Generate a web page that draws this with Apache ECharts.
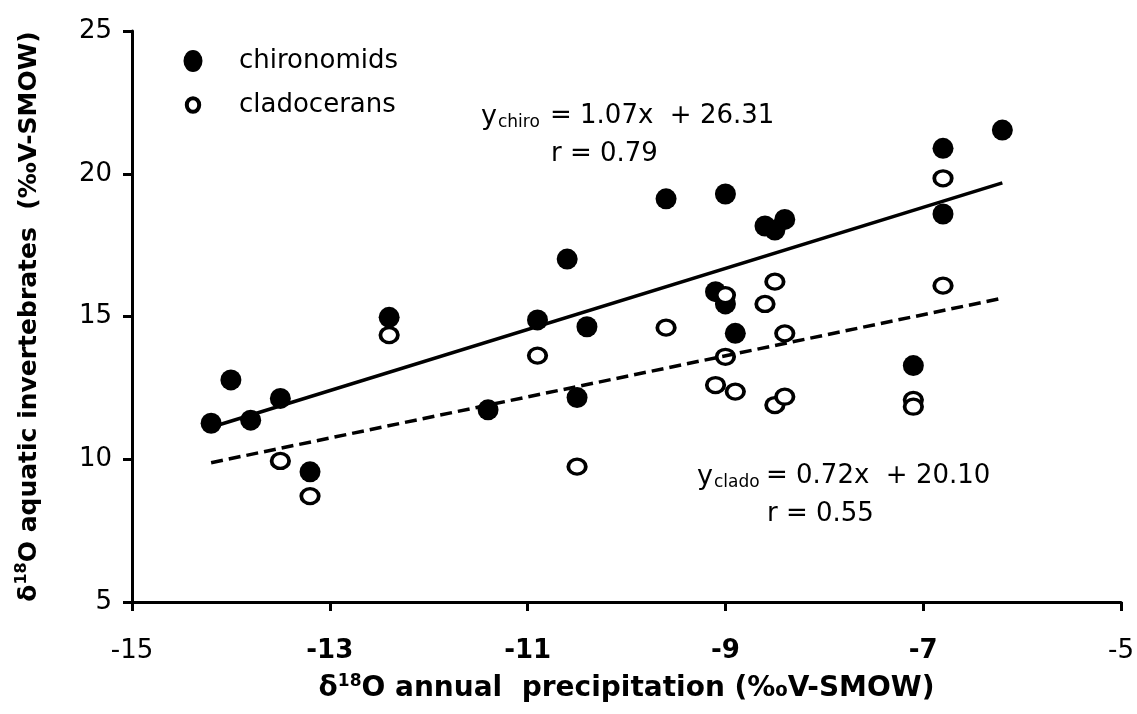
<!DOCTYPE html>
<html>
<head>
<meta charset="utf-8">
<script src="https://cdn.jsdelivr.net/npm/echarts@6/dist/echarts.min.js"></script>
<style>
  html, body { margin: 0; padding: 0; background: #fff; }
  #chart { width: 1137px; height: 714px; }
</style>
</head>
<body>
<div id="chart"></div>
<script>
// ---- data ----
const chiroX = [-14.2, -14.0, -13.8, -13.5, -13.2, -12.4, -11.4, -10.9, -10.6, -10.5, -10.4, -9.6, -9.1, -9.0, -9.0, -8.9, -8.6, -8.5, -8.4, -7.1, -6.8, -6.8, -6.2];
const chiroY = [11.26, 12.78, 11.37, 12.13, 9.56, 14.97, 11.73, 14.88, 17.01, 12.16, 14.64, 19.12, 15.87, 19.29, 15.44, 14.41, 18.17, 18.03, 18.40, 13.28, 20.89, 18.59, 21.53];

const cladoX = [-13.5, -13.2, -12.4, -10.9, -10.5, -9.6, -9.1, -9.0, -9.0, -8.9, -8.6, -8.5, -8.5, -8.4, -8.4, -7.1, -7.1, -6.8, -6.8];
const cladoY = [9.94, 8.71, 14.35, 13.63, 9.74, 14.61, 12.60, 13.59, 15.75, 12.37, 15.44, 16.22, 11.90, 14.41, 12.19, 12.08, 11.84, 19.84, 16.08];

// regression line end points (as drawn)
const chiroFitX = [-14.2, -6.2];
const chiroFitY = [11.12, 19.68];
const cladoFitX = [-14.2, -6.2];
const cladoFitY = [9.88, 15.64];

const seriesNames = ['chironomids', 'cladocerans'];
const xTicks = ['-15', '-13', '-11', '-9', '-7', '-5'];
const xTickBold = [false, true, true, true, true, false];
const yTicks = ['5', '10', '15', '20', '25'];

const eqChiro = { sub: 'chiro', rest: '= 1.07x  + 26.31', r: 'r = 0.79' };
const eqClado = { sub: 'clado', rest: '= 0.72x  + 20.10', r: 'r = 0.55' };

// ---- build ----
const zip = (xs, ys) => xs.map((x, i) => [x, ys[i]]);
const FONT = 'DejaVu Sans';

const svgIcon = (body) => 'image://data:image/svg+xml;charset=utf-8,' + encodeURIComponent(
  '<svg xmlns="http://www.w3.org/2000/svg" width="22" height="24" viewBox="0 0 22 24">' + body + '</svg>');
const iconFilled = svgIcon('<ellipse cx="11" cy="12" rx="9.5" ry="11" fill="#000"/>');
const iconOpen = svgIcon('<ellipse cx="11" cy="12" rx="6.2" ry="6.8" fill="#fff" stroke="#000" stroke-width="4"/>');

const chart = echarts.init(document.getElementById('chart'), null, { renderer: 'canvas' });

function eqGraphics(eq, x0, yMain, yR, xSub, xRest, xR) {
  const base = { fontFamily: FONT, fill: '#000', verticalAlign: 'middle', align: 'left' };
  return [
    { type: 'text', left: x0, top: yMain - 16, style: Object.assign({}, base, { text: 'y', fontSize: 27 }) },
    { type: 'text', left: xSub, top: yMain - 16 + 11, style: Object.assign({}, base, { text: eq.sub, fontSize: 17 }) },
    { type: 'text', left: xRest, top: yMain - 16, style: Object.assign({}, base, { text: eq.rest, fontSize: 26 }) },
    { type: 'text', left: xR, top: yR - 16, style: Object.assign({}, base, { text: eq.r, fontSize: 26 }) }
  ];
}

const option = {
  animation: false,
  backgroundColor: '#fff',
  grid: { left: 132, right: 12, top: 31, bottom: 112, containLabel: false },
  legend: {
    orient: 'vertical',
    left: 177,
    top: 41,
    itemGap: 14,
    itemWidth: 22,
    itemHeight: 24,
    textStyle: { fontFamily: FONT, fontSize: 26, color: '#000', padding: [0, 0, 0, 30], lineHeight: 30 },
    data: [
      { name: seriesNames[0], icon: iconFilled },
      { name: seriesNames[1], icon: iconOpen }
    ]
  },
  xAxis: {
    type: 'value', min: -15, max: -5, interval: 2,
    name: '{n|δ}{s|18}{n|O annual  precipitation (‰V-SMOW)}',
    nameLocation: 'middle', nameGap: 71,
    nameTextStyle: {
      rich: {
        n: { fontFamily: FONT, fontWeight: 'bold', fontSize: 28, color: '#000', lineHeight: 32 },
        s: { fontFamily: FONT, fontWeight: 'bold', fontSize: 17, color: '#000', verticalAlign: 'top', lineHeight: 19 }
      }
    },
    axisLine: { onZero: false, lineStyle: { color: '#000', width: 3 } },
    axisTick: { inside: false, length: 9, lineStyle: { color: '#000', width: 3 } },
    splitLine: { show: false },
    axisLabel: {
      margin: 36,
      formatter: function (v) {
        const i = Math.round((v + 15) / 2);
        const t = xTicks[i];
        return xTickBold[i] ? '{b|' + t + '}' : '{r|' + t + '}';
      },
      rich: {
        r: { fontFamily: FONT, fontSize: 26, color: '#000' },
        b: { fontFamily: FONT, fontSize: 26, fontWeight: 'bold', color: '#000' }
      }
    }
  },
  yAxis: {
    type: 'value', min: 5, max: 25, interval: 5,
    name: '{n|δ}{s|18}{n|O aquatic invertebrates  (‰V-SMOW)}',
    nameLocation: 'middle', nameGap: 88, nameRotate: 90,
    nameTextStyle: {
      rich: {
        n: { fontFamily: FONT, fontWeight: 'bold', fontSize: 25, color: '#000', lineHeight: 30 },
        s: { fontFamily: FONT, fontWeight: 'bold', fontSize: 16, color: '#000', verticalAlign: 'top', lineHeight: 18 }
      }
    },
    axisLine: { onZero: false, lineStyle: { color: '#000', width: 3 } },
    axisTick: { inside: false, length: 9, lineStyle: { color: '#000', width: 3 } },
    splitLine: { show: false },
    axisLabel: {
      margin: 20,
      fontFamily: FONT, fontSize: 26, color: '#000',
      formatter: function (v) { return yTicks[Math.round((v - 5) / 5)]; }
    }
  },
  series: [
    {
      name: seriesNames[0], type: 'scatter', z: 2,
      symbol: 'circle', symbolSize: 21,
      itemStyle: { color: '#000', opacity: 1 },
      data: zip(chiroX, chiroY)
    },
    {
      name: seriesNames[1], type: 'scatter', z: 3,
      symbol: 'circle', symbolSize: [17.5, 15],
      itemStyle: { color: '#fff', borderColor: '#000', borderWidth: 3.5, opacity: 1 },
      data: zip(cladoX, cladoY)
    },
    {
      name: 'chiroFit', type: 'line', z: 4, symbol: 'none', silent: true,
      lineStyle: { color: '#000', width: 3.5, type: 'solid' },
      data: zip(chiroFitX, chiroFitY)
    },
    {
      name: 'cladoFit', type: 'line', z: 4, symbol: 'none', silent: true,
      lineStyle: { color: '#000', width: 3.5, type: [12, 6] },
      data: zip(cladoFitX, cladoFitY)
    }
  ],
  graphic: [].concat(
    eqGraphics(eqChiro, 481, 119, 157, 498, 550, 551),
    eqGraphics(eqClado, 697, 479, 517, 714, 766, 767)
  )
};

chart.setOption(option);
</script>
</body>
</html>
